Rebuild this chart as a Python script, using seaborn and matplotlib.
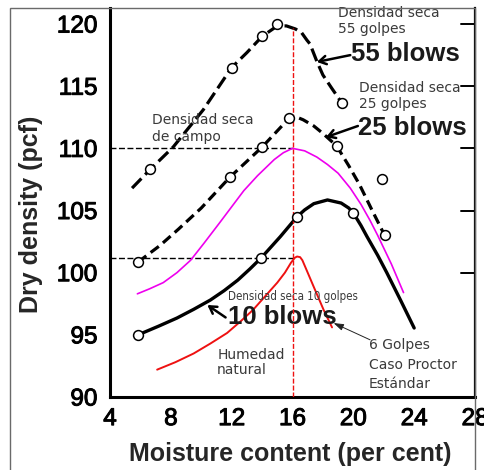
import matplotlib
matplotlib.use("Agg")
import matplotlib.pyplot as plt
import matplotlib.patheffects as pe
from matplotlib.patches import Rectangle
import pandas as pd
import seaborn as sns

# Compaction test results: moisture content (%) vs dry density (pcf)
blows55_x = [5.45, 6.64, 8.15, 10.13, 12.0, 13.0, 14.0, 15.0, 15.6, 16.2, 16.6, 16.95, 17.15, 17.6, 18.0, 18.6, 19.25]
blows55_y = [106.8, 108.3, 110.1, 113.1, 116.5, 117.7, 119.0, 119.85, 119.85, 119.6, 119.3, 118.7, 118.4, 117.0, 115.9, 114.8, 113.65]
tests55_x = [6.64, 12.0, 14.0, 15.0, 19.25]
tests55_y = [108.3, 116.5, 119.0, 120.0, 113.65]

blows25_x = [5.85, 7.3, 8.5, 10.0, 11.9, 14.0, 15.8, 16.3, 16.7, 17.4, 18.0, 18.9, 19.7, 20.4, 21.2, 22.06]
blows25_y = [100.86, 102.2, 103.5, 105.2, 107.7, 110.1, 112.45, 112.5, 112.3, 111.8, 111.2, 110.2, 108.6, 107.1, 105.1, 103.0]
tests25_x = [5.85, 11.9, 14.0, 15.8, 18.9, 21.9, 22.06]
tests25_y = [100.86, 107.7, 110.1, 112.45, 110.2, 107.5, 103.0]

blows10_x = [5.85, 7.2, 8.4, 9.5, 10.6, 11.5, 12.4, 13.2, 13.95, 15.2, 16.3, 16.8, 17.4, 18.3, 19.2, 19.7, 20.0, 20.5, 20.9, 21.6, 22.2, 23.1, 24.0]
blows10_y = [95.0, 95.7, 96.35, 97.05, 97.8, 98.55, 99.4, 100.3, 101.2, 102.9, 104.5, 105.05, 105.55, 105.85, 105.6, 105.2, 104.8, 103.8, 102.9, 101.4, 100.0, 97.8, 95.55]
tests10_x = [5.85, 13.95, 16.3, 20.0]
tests10_y = [95.0, 101.2, 104.5, 104.8]

# Standard Proctor fit curve and field (natural moisture) curve
proctor_x = [5.8, 6.6, 7.5, 8.4, 9.3, 10.2, 11.2, 12.0, 12.8, 13.7, 14.8, 15.4, 16.0, 16.8, 17.6, 18.3, 19.0, 19.8, 20.5, 21.1, 21.6, 22.5, 23.3]
proctor_y = [98.3, 98.7, 99.2, 100.0, 101.0, 102.4, 104.0, 105.3, 106.6, 107.8, 109.1, 109.65, 110.0, 109.8, 109.3, 108.7, 108.0, 106.8, 105.5, 104.2, 103.0, 100.7, 98.4]

natural_x = [7.1, 8.3, 9.5, 10.6, 11.7, 12.6, 13.4, 14.2, 15.0, 15.5, 15.9, 16.15, 16.3, 16.5, 16.65, 17.0, 17.4, 18.05, 18.6]
natural_y = [92.2, 92.8, 93.5, 94.3, 95.15, 96.1, 97.0, 98.1, 99.2, 100.0, 100.8, 101.2, 101.3, 101.25, 101.0, 100.0, 98.85, 97.0, 95.6]

field_density = 110.0
opt_moisture = 16.0
density_10 = 101.2
density_10_end = 16.25

xticks = [4, 8, 12, 16, 20, 24, 28]
yticks = [90, 95, 100, 105, 110, 115, 120]

sns.set_style("white")
plt.rcParams["font.family"] = ["Liberation Sans", "DejaVu Sans"]

fig = plt.figure(figsize=(4.84, 4.70), dpi=100)
ax = fig.add_axes([110 / 484, 73 / 470, 365 / 484, 389 / 470])

# Reference lines
ax.plot([4, opt_moisture], [field_density, field_density], color="black", lw=1.0,
        ls=(0, (4.3, 1.8)), zorder=2)
ax.plot([4, density_10_end], [density_10, density_10], color="black", lw=1.0,
        ls=(0, (4.3, 1.8)), zorder=2)
ax.plot([opt_moisture, opt_moisture], [90, 119.7], color="#ee1111", lw=1.0,
        ls=(0, (3.6, 1.4)), zorder=4)

# Compaction curves
d55 = pd.DataFrame({"w": blows55_x, "gd": blows55_y})
d25 = pd.DataFrame({"w": blows25_x, "gd": blows25_y})
d10 = pd.DataFrame({"w": blows10_x, "gd": blows10_y})
dpr = pd.DataFrame({"w": proctor_x, "gd": proctor_y})
dnat = pd.DataFrame({"w": natural_x, "gd": natural_y})

sns.lineplot(data=d55, x="w", y="gd", sort=False, ax=ax, color="black", lw=2.3,
             ls=(0, (4.2, 1.7)), estimator=None, zorder=3)
sns.lineplot(data=d25, x="w", y="gd", sort=False, ax=ax, color="black", lw=2.3,
             ls=(0, (3.2, 1.7)), estimator=None, zorder=3)
sns.lineplot(data=d10, x="w", y="gd", sort=False, ax=ax, color="black", lw=2.4,
             estimator=None, zorder=3)
sns.lineplot(data=dpr, x="w", y="gd", sort=False, ax=ax, color="#ee00ee", lw=1.2,
             estimator=None, zorder=3)
sns.lineplot(data=dnat, x="w", y="gd", sort=False, ax=ax, color="#ee1111", lw=1.4,
             estimator=None, zorder=3)

# Test points
tests = pd.DataFrame({
    "w": tests55_x + tests25_x + tests10_x,
    "gd": tests55_y + tests25_y + tests10_y,
})
sns.scatterplot(data=tests, x="w", y="gd", ax=ax, s=50, facecolor="white",
                edgecolor="black", linewidth=1.1, zorder=5)

ax.set_xlim(4, 28)
ax.set_ylim(90, 121.29)
ax.set_xticks(xticks)
ax.set_yticks(yticks)
ax.set_xlabel("")
ax.set_ylabel("")
ax.tick_params(axis="both", direction="in", length=11, width=1.6, labelsize=17.5,
               colors="black")
ax.tick_params(axis="y", pad=9)
ax.tick_params(axis="x", pad=8)
for lab in ax.get_xticklabels() + ax.get_yticklabels():
    lab.set_path_effects([pe.withStroke(linewidth=0.7, foreground="black")])
for s in ("left", "bottom"):
    ax.spines[s].set_linewidth(2.2)
    ax.spines[s].set_color("black")
ax.spines["right"].set_linewidth(1.6)
ax.spines["right"].set_color("black")
ax.spines["top"].set_visible(False)

# inward ticks on the right edge
for yv in [100, 105, 110, 115, 120]:
    ax.plot([27.1, 28], [yv, yv], color="black", lw=1.4, clip_on=False, zorder=6)

# Axis titles
fig.text(290 / 484, 1 - 454 / 470, "Moisture content (per cent)", ha="center",
         va="center", fontsize=18, fontweight="bold")
fig.text(31 / 484, 1 - 214 / 470, "Dry density (pcf)", ha="center", va="center",
         rotation=90, fontsize=18, fontweight="bold")

# Annotations
note = dict(fontsize=10, color="#3a3a3a", family=["DejaVu Sans"], fontweight="normal",
            ha="left", va="center")
big = dict(fontsize=18.5, fontweight="bold", color="#1a1a1a", ha="left", va="center")

ax.text(18.96, 120.9, "Densidad seca", clip_on=False, **note)
ax.text(18.96, 119.6, "55 golpes", **note)
ax.text(19.82, 117.6, "55 blows", **big)
ax.text(20.35, 114.86, "Densidad seca", **note)
ax.text(20.35, 113.57, "25 golpes", **note)
ax.text(20.3, 111.64, "25 blows", **big)
ax.text(6.77, 112.3, "Densidad seca", **note)
ax.text(6.77, 110.9, "de campo", **note)
ax.text(11.78, 98.05, "Densidad seca 10 golpes", fontsize=8.3, color="#3a3a3a",
        family=["DejaVu Sans"], fontweight="normal", ha="left", va="center",
        fontstretch="condensed")
ax.text(11.78, 96.4, "10 blows", **big)
ax.text(11.05, 93.4, "Humedad", **note)
ax.text(11.05, 92.2, "natural", **note)
ax.text(21.0, 94.2, "6 Golpes", **note)
ax.text(21.0, 92.6, "Caso Proctor", **note)
ax.text(21.0, 91.05, "Estándar", **note)

thick_arrow = dict(arrowstyle="->,head_length=0.5,head_width=0.3", color="black", lw=1.8,
                   shrinkA=0, shrinkB=0)
ax.annotate("", xy=(17.6, 116.95), xytext=(19.8, 117.5), arrowprops=thick_arrow)
ax.annotate("", xy=(18.2, 110.9), xytext=(20.3, 111.8), arrowprops=thick_arrow)
ax.annotate("", xy=(10.4, 97.4), xytext=(11.6, 96.4), arrowprops=thick_arrow)
ax.annotate("", xy=(18.7, 95.95), xytext=(21.1, 94.6),
            arrowprops=dict(arrowstyle="-|>,head_length=0.6,head_width=0.2",
                            color="#222222", lw=0.7, shrinkA=0, shrinkB=0))

# Outer frame of the sheet
fig.patches.append(Rectangle((10 / 484, -0.01), 465 / 484, 1 - 8 / 470 + 0.01,
                             transform=fig.transFigure, fill=False,
                             edgecolor="#6a6a6a", lw=1.0, zorder=0))

fig.savefig("out.png", dpi=100)
